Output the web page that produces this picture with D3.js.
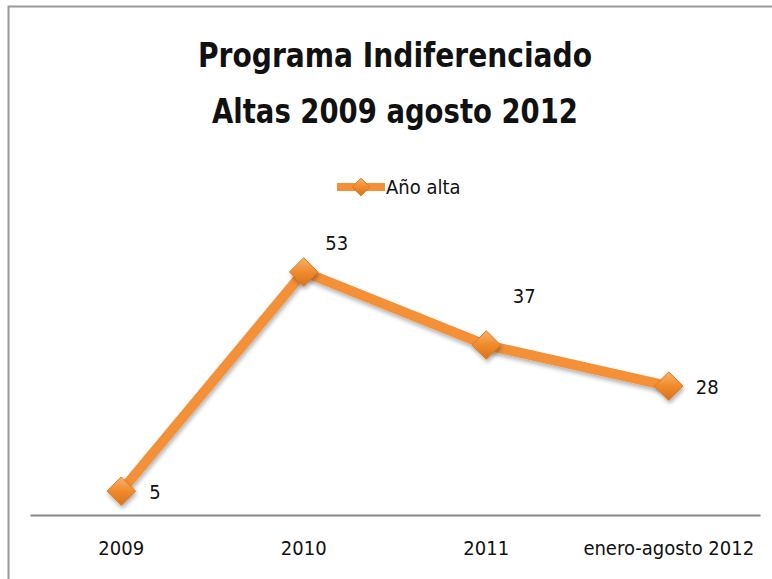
<!DOCTYPE html>
<html>
<head>
<meta charset="utf-8">
<script src="https://cdn.jsdelivr.net/npm/d3@7"></script>
<style>
  html, body { margin: 0; padding: 0; background: #ffffff; }
  svg { display: block; }
</style>
</head>
<body>
<svg id="chart" width="772" height="579"></svg>
<script>
// Altas por año del Programa Indiferenciado
const categories = ["2009", "2010", "2011", "enero-agosto 2012"];
const altas = [5, 53, 37, 28];
const seriesName = "Año alta";
const titleLines = ["Programa Indiferenciado", "Altas 2009 agosto 2012"];

const W = 772, H = 579;
const font = "'DejaVu Sans Condensed', 'DejaVu Sans', sans-serif";
const orange = "#F49038";

const svg = d3.select("#chart");
const defs = svg.append("defs");

const shadow = defs.append("filter").attr("id", "shadow")
  .attr("x", "-30%").attr("y", "-30%").attr("width", "160%").attr("height", "160%");
shadow.append("feGaussianBlur").attr("in", "SourceAlpha").attr("stdDeviation", 2);
shadow.append("feOffset").attr("dx", 1).attr("dy", 3).attr("result", "off");
shadow.append("feComponentTransfer").append("feFuncA").attr("type", "linear").attr("slope", 0.3);
const merge = shadow.append("feMerge");
merge.append("feMergeNode");
merge.append("feMergeNode").attr("in", "SourceGraphic");

const grad = defs.append("linearGradient").attr("id", "markerFill")
  .attr("x1", 0).attr("y1", 0).attr("x2", 0).attr("y2", 1);
grad.append("stop").attr("offset", "0%").attr("stop-color", "#F9B26A");
grad.append("stop").attr("offset", "50%").attr("stop-color", "#F08A2C");
grad.append("stop").attr("offset", "100%").attr("stop-color", "#D7731E");

// chart frame
svg.append("path")
  .attr("d", `M8.5,${H} V6.5 H${W}`)
  .attr("fill", "none").attr("stroke", "#9a9a9a").attr("stroke-width", 2);

// title, fitted to its line widths
const titleWidths = [394, 366];
svg.append("g").selectAll("text").data(titleLines).join("text")
  .attr("x", 395).attr("y", (d, i) => 67 + i * 56)
  .attr("text-anchor", "middle")
  .attr("font-family", font).attr("font-size", 33).attr("font-weight", "bold")
  .attr("textLength", (d, i) => titleWidths[i]).attr("lengthAdjust", "spacingAndGlyphs")
  .attr("fill", "#111")
  .text(d => d);

// scales
const x = d3.scaleBand().domain(categories).range([30, 760]);
const y = d3.scaleLinear().domain([0, 60]).range([514, 240]);
const cx = c => x(c) + x.bandwidth() / 2;

// category axis
const xAxis = svg.append("g").attr("transform", "translate(0,515)")
  .call(d3.axisBottom(x).tickSize(0).tickPadding(26));
xAxis.select(".domain").attr("stroke", "#888").attr("stroke-width", 2);
xAxis.selectAll("text").attr("font-family", font).attr("font-size", 20).attr("fill", "#111");

// line
const pts = categories.map((c, i) => ({ c, v: altas[i] }));
svg.append("path").datum(pts)
  .attr("d", d3.line().x(d => cx(d.c)).y(d => y(d.v)))
  .attr("fill", "none").attr("stroke", orange).attr("stroke-width", 10)
  .attr("stroke-linejoin", "round")
  .attr("filter", "url(#shadow)");

// markers
const diamond = d3.symbol().type(d3.symbolDiamond2).size(520);
svg.append("g").selectAll("path").data(pts).join("path")
  .attr("transform", d => `translate(${cx(d.c)},${y(d.v)})`)
  .attr("d", diamond)
  .attr("fill", "url(#markerFill)").attr("stroke", "#E07B22").attr("stroke-width", 1)
  .attr("filter", "url(#shadow)");

// value labels: first and last to the right, middle ones above-right
const labelOffset = [[28, 1], [33, -29], [38, -49], [27, 1]];
svg.append("g").selectAll("text").data(pts).join("text")
  .attr("x", (d, i) => cx(d.c) + labelOffset[i][0])
  .attr("y", (d, i) => y(d.v) + labelOffset[i][1])
  .attr("dy", "0.35em")
  .attr("text-anchor", (d, i) => (i === 1 || i === 2) ? "middle" : "start")
  .attr("font-family", font).attr("font-size", 20).attr("fill", "#111")
  .text(d => d.v);

// legend
const lg = svg.append("g").attr("transform", "translate(361,187)");
lg.append("line").attr("x1", -24).attr("x2", 24)
  .attr("stroke", orange).attr("stroke-width", 8);
lg.append("path").attr("d", d3.symbol().type(d3.symbolDiamond2).size(200))
  .attr("fill", "url(#markerFill)").attr("stroke", "#E07B22");
lg.append("text").attr("x", 25).attr("dy", "0.35em")
  .attr("font-family", font).attr("font-size", 20).attr("fill", "#111")
  .text(seriesName);
</script>
</body>
</html>
